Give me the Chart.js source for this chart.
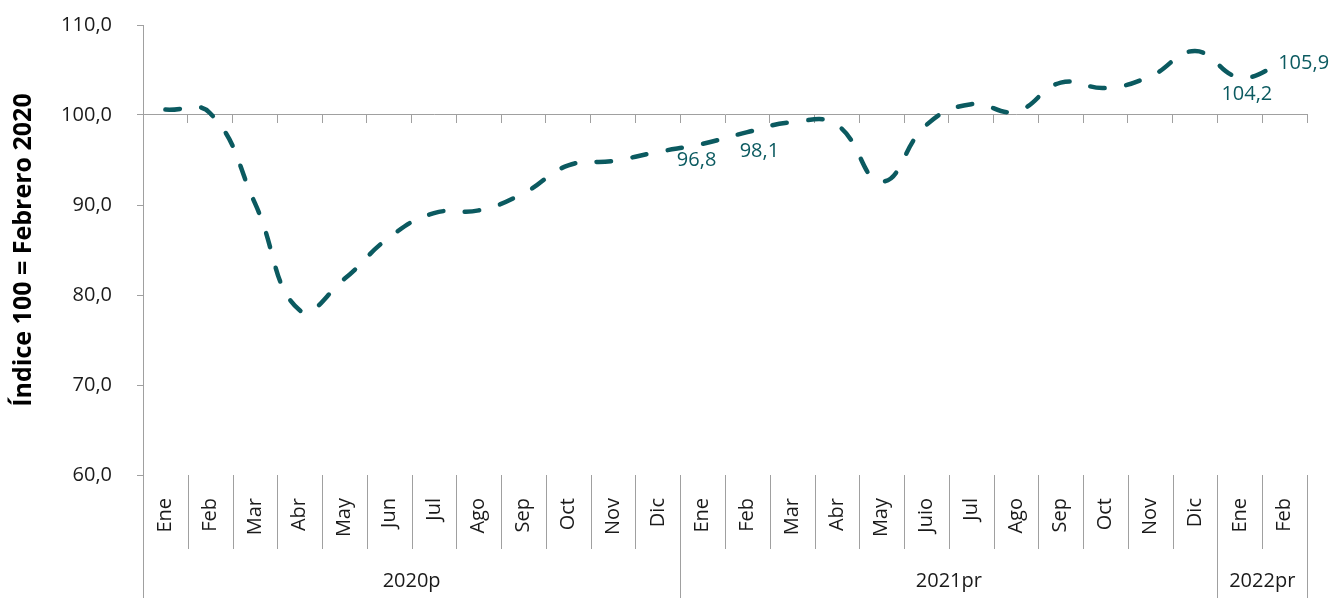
<!DOCTYPE html>
<html>
<head>
<meta charset="utf-8">
<script src="https://cdn.jsdelivr.net/npm/chart.js@4"></script>
<style>
  body { margin: 0; background: #fff; }
  #wrap { width: 1335px; height: 598px; position: relative; }
</style>
</head>
<body>
<div id="wrap"><canvas id="indexChart"></canvas></div>
<script>
// meses (eje x) y grupos de años
const months = ['Ene', 'Feb', 'Mar', 'Abr', 'May', 'Jun', 'Jul', 'Ago', 'Sep', 'Oct', 'Nov', 'Dic',
                'Ene', 'Feb', 'Mar', 'Abr', 'May', 'Juio', 'Jul', 'Ago', 'Sep', 'Oct', 'Nov', 'Dic',
                'Ene', 'Feb'];
const yearLabels = ['2020p', '2021pr', '2022pr'];
const yearMonthCounts = [12, 12, 2];

// índice 100 = febrero 2020
const indexValues = [100.6, 100.2, 90.2, 78.3, 81.8, 86.4, 89.1, 89.4, 91.3, 94.4, 94.9, 95.9,
                     96.8, 98.1, 99.2, 98.9, 92.6, 98.9, 101.2, 100.4, 103.6, 103.0, 104.3, 107.1,
                     104.2, 105.9];
const labeledPoints = [12, 13, 24, 25];

const yTicks = [60, 70, 80, 90, 100, 110];

const FONT = "'Open Sans', 'Noto Sans', sans-serif";
const AXIS_GRAY = '#a0a0a0';
const LINE_COLOR = '#0b5a60';

const fmt = v => v.toFixed(1).replace('.', ',');

// etiquetas de datos (solo algunos puntos)
const pointLabelsPlugin = {
    id: 'pointLabels',
    afterDatasetsDraw(chart) {
        const ctx = chart.ctx;
        const meta = chart.getDatasetMeta(0);
        const offsets = { 12: [-6, 16], 13: [12, 19], 24: [7, 17], 25: [19, 1] };
        ctx.save();
        ctx.font = '20px ' + FONT;
        ctx.fillStyle = LINE_COLOR;
        ctx.textAlign = 'center';
        ctx.textBaseline = 'middle';
        labeledPoints.forEach(i => {
            const p = meta.data[i];
            const off = offsets[i] || [0, -16];
            ctx.fillText(fmt(indexValues[i]), p.x + off[0], p.y + off[1]);
        });
        ctx.restore();
    }
};

// tabla de categorías bajo el gráfico: separadores y años
const categoryTablePlugin = {
    id: 'categoryTable',
    afterDraw(chart) {
        const ctx = chart.ctx;
        const xs = chart.scales.x;
        const top = chart.chartArea.bottom;
        const bottom = chart.height;
        const w = xs.width / months.length;
        const edge = i => xs.getPixelForValue(i) - w / 2;

        const groupEdges = [0];
        yearMonthCounts.forEach(c => groupEdges.push(groupEdges[groupEdges.length - 1] + c));

        ctx.save();
        ctx.strokeStyle = AXIS_GRAY;
        ctx.lineWidth = 1;
        for (let i = 0; i <= months.length; i++) {
            const bx = Math.round(i === months.length ? xs.right : edge(i)) + 0.5;
            const isGroup = groupEdges.includes(i);
            ctx.beginPath();
            ctx.moveTo(bx, top);
            ctx.lineTo(bx, isGroup ? bottom : top + 74);
            ctx.stroke();
        }

        ctx.font = '20px ' + FONT;
        ctx.fillStyle = '#1a1a1a';
        ctx.textAlign = 'center';
        ctx.textBaseline = 'middle';
        yearLabels.forEach((lab, g) => {
            const x0 = xs.left + groupEdges[g] * w;
            const x1 = xs.left + groupEdges[g + 1] * w;
            ctx.fillText(lab, (x0 + x1) / 2, top + 106);
        });
        ctx.restore();
    }
};

new Chart(document.getElementById('indexChart'), {
    type: 'line',
    data: {
        labels: months,
        datasets: [{
            label: 'Índice',
            data: indexValues,
            borderColor: LINE_COLOR,
            borderWidth: 4.5,
            borderDash: [14.5, 21.5],
            borderCapStyle: 'round',
            fill: false,
            pointRadius: 0,
            tension: 0.45
        }]
    },
    options: {
        responsive: true,
        maintainAspectRatio: false,
        animation: false,
        layout: { padding: { top: 25, right: 28, bottom: 0, left: 0 } },
        plugins: { legend: { display: false }, tooltip: { enabled: false } },
        scales: {
            x: {
                type: 'category',
                position: 'bottom',
                offset: true,
                grid: { display: false, drawTicks: false },
                border: { display: false },
                ticks: {
                    autoSkip: false,
                    minRotation: 90,
                    maxRotation: 90,
                    padding: 23,
                    color: '#1a1a1a',
                    font: { family: FONT, size: 20 }
                },
                afterFit(scale) {
                    scale.height = 123;
                    scale.paddingLeft = 0;
                    scale.paddingRight = 0;
                }
            },
            x2: {
                type: 'category',
                position: { y: 100 },
                offset: true,
                grid: { drawOnChartArea: false, offset: true, tickLength: 8, color: AXIS_GRAY },
                border: { color: AXIS_GRAY },
                ticks: { display: false },
                afterFit(scale) {
                    scale.paddingTop = 0;
                    scale.paddingBottom = 0;
                    scale.paddingLeft = 0;
                    scale.paddingRight = 0;
                }
            },
            y: {
                min: 60,
                max: 110,
                afterBuildTicks(scale) { scale.ticks = yTicks.map(v => ({ value: v })); },
                grid: { drawOnChartArea: false, tickLength: 6, color: AXIS_GRAY },
                border: { color: AXIS_GRAY },
                ticks: {
                    padding: 25,
                    color: '#1a1a1a',
                    font: { family: FONT, size: 20 },
                    callback: v => fmt(v)
                },
                title: {
                    display: true,
                    text: 'Índice 100 = Febrero 2020',
                    color: '#000',
                    font: { family: FONT, size: 25, weight: 'bold' },
                    padding: { top: 9, bottom: 0 }
                },
                afterFit(scale) {
                    scale.width = 143;
                    scale.paddingTop = 0;
                    scale.paddingBottom = 0;
                }
            }
        }
    },
    plugins: [pointLabelsPlugin, categoryTablePlugin]
});
</script>
</body>
</html>
